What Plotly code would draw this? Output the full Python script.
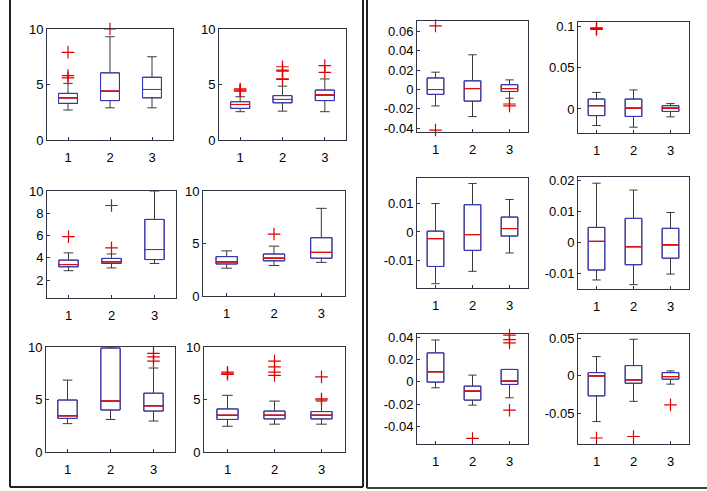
import plotly.graph_objects as go

W, H = 707, 491

# ---------------- data ----------------
CATEGORIES = [1, 2, 3]

Q1 = [
    [3.3, 3.55, 3.8], [2.85, 3.35, 3.55], [3.2, 3.5, 3.85],
    [3.05, 3.35, 3.6], [3.2, 4.0, 3.9], [3.1, 3.15, 3.15],
    [-0.005, -0.012, -0.002], [-0.008, -0.009, -0.003], [-0.012, -0.0064, -0.0014],
    [-0.0089, -0.0072, -0.0051], [-0.0003, -0.0165, -0.0024], [-0.0267, -0.0098, -0.0044],
]
MEDIAN = [
    [3.8, 4.4, 4.55], [3.2, 3.65, 4.05], [3.4, 3.65, 4.75],
    [3.25, 3.6, 4.15], [3.45, 4.85, 4.4], [3.5, 3.5, 3.5],
    [0.0, 0.001, 0.001], [0.004, 0.001, 0.001], [-0.0023, -0.0009, 0.0012],
    [0.0003, -0.0014, -0.0008], [0.009, -0.0084, 0.0006], [0.0, -0.0053, -0.0009],
]
Q3 = [
    [4.2, 6.05, 5.65], [3.45, 4.0, 4.5], [3.8, 3.95, 7.45],
    [3.75, 4.0, 5.55], [4.95, 9.9, 5.6], [4.1, 3.9, 3.85],
    [0.012, 0.009, 0.005], [0.012, 0.012, 0.004], [0.0003, 0.0095, 0.0052],
    [0.0048, 0.0077, 0.0045], [0.026, -0.0039, 0.0111], [0.0044, 0.0138, 0.0044],
]
LOWER = [
    [2.7, 2.9, 2.9], [2.55, 2.6, 2.55], [2.85, 3.1, 3.5],
    [2.65, 2.9, 3.2], [2.7, 3.1, 2.95], [2.45, 2.65, 2.65],
    [-0.017, -0.028, -0.009], [-0.020, -0.022, -0.0095], [-0.018, -0.0137, -0.0073],
    [-0.0121, -0.0136, -0.0102], [-0.0054, -0.021, -0.0144], [-0.061, -0.034, -0.011],
]
UPPER = [
    [5.1, 9.3, 7.5], [3.9, 4.85, 5.5], [4.45, 4.35, 10.0],
    [4.3, 4.75, 8.35], [6.85, 10.0, 8.0], [5.4, 4.85, 4.85],
    [0.018, 0.036, 0.010], [0.020, 0.023, 0.0065], [0.0099, 0.0169, 0.0113],
    [0.019, 0.0168, 0.0096], [0.0376, 0.006, 0.0111], [0.0258, 0.049, 0.0067],
]
# outliers per plot: [group1 values, group2 values, group3 values]
OUTLIERS = [
    [[7.9, 5.8, 5.6], [10.0], []],
    [[4.4, 4.5, 4.6], [5.45, 5.5, 6.2, 6.3, 6.6], [6.1, 6.7]],
    [[5.9], [4.9, 8.7], []],
    [[], [5.9], []],
    [[], [], [8.65, 9.05, 9.4]],
    [[7.4, 7.5, 7.6], [7.3, 7.6, 8.1, 8.65], [4.95, 5.05, 7.15]],
    [[0.066, -0.042], [], [-0.015, -0.017]],
    [[0.096, 0.097, 0.098], [], []],
    [[], [], []],
    [[], [], []],
    [[], [-0.051], [0.042, 0.038, 0.035, -0.0256]],
    [[-0.083], [-0.081], [-0.0387]],
]
Y_RANGES = [
    [0, 10], [0, 10], [0.4, 10], [0, 10], [0, 10], [0, 10],
    [-0.044, 0.071], [-0.029, 0.105], [-0.0195, 0.0188],
    [-0.015, 0.021], [-0.056, 0.043], [-0.091, 0.056],
]
Y_TICKS = [
    [0, 5, 10], [0, 5, 10], [2, 4, 6, 8, 10], [0, 5, 10], [0, 5, 10], [0, 5, 10],
    [-0.04, -0.02, 0, 0.02, 0.04, 0.06], [0, 0.05, 0.1], [-0.01, 0, 0.01],
    [-0.01, 0, 0.01, 0.02], [-0.04, -0.02, 0, 0.02, 0.04], [-0.05, 0, 0.05],
]
Y_TICKTEXT = [
    ["0", "5", "10"], ["0", "5", "10"], ["2", "4", "6", "8", "10"],
    ["0", "5", "10"], ["0", "5", "10"], ["0", "5", "10"],
    ["-0.04", "-0.02", "0", "0.02", "0.04", "0.06"], ["0", "0.05", "0.1"],
    ["-0.01", "0", "0.01"], ["-0.01", "0", "0.01", "0.02"],
    ["-0.04", "-0.02", "0", "0.02", "0.04"], ["-0.05", "0", "0.05"],
]

# ---------------- layout (pixel boxes of each axes: x0, x1, y0(top), y1(bottom)) ----------------
BOXES = [
    (47, 173, 29, 140), (219, 346, 29, 140),
    (47, 176, 191, 298), (203, 345, 191, 296),
    (46, 175, 347, 452), (204, 345, 347, 452),
    (417, 528, 21, 132), (578, 689, 22, 133),
    (417, 528, 178, 288), (578, 689, 177, 289),
    (417, 528, 334, 444), (578, 689, 334, 444),
]

BOX_COLOR = "#3535c0"
WHISKER_COLOR = "#3a3a3a"
MED_COLOR = "#e01010"
FRAME = "#333344"
BOX_W = 0.45

fig = go.Figure()
layout = dict(
    width=W, height=H, margin=dict(l=0, r=0, t=0, b=0, pad=0, autoexpand=False),
    paper_bgcolor="white", plot_bgcolor="white", showlegend=False,
    font=dict(family="Liberation Sans, Arial, sans-serif", size=13, color="black"),
    boxmode="overlay",
)

for i in range(12):
    n = "" if i == 0 else str(i + 1)
    xa, ya = "x" + n, "y" + n
    common = dict(x=CATEGORIES, width=BOX_W, boxpoints=False,
                  fillcolor="rgba(255,255,255,0)", xaxis=xa, yaxis=ya, hoverinfo="skip")
    # whiskers + caps (dark)
    fig.add_trace(go.Box(
        q1=Q1[i], median=MEDIAN[i], q3=Q3[i],
        lowerfence=LOWER[i], upperfence=UPPER[i], whiskerwidth=0.5,
        line=dict(color=WHISKER_COLOR, width=1), **common,
    ))
    # blue box body
    fig.add_trace(go.Box(
        q1=Q1[i], median=MEDIAN[i], q3=Q3[i],
        lowerfence=Q1[i], upperfence=Q3[i], whiskerwidth=0,
        line=dict(color=BOX_COLOR, width=1), **common,
    ))
    # red median line
    fig.add_trace(go.Box(
        q1=MEDIAN[i], median=MEDIAN[i], q3=MEDIAN[i],
        lowerfence=MEDIAN[i], upperfence=MEDIAN[i], whiskerwidth=0,
        line=dict(color=MED_COLOR, width=1), **common,
    ))
    ox, oy = [], []
    for c, vals in zip(CATEGORIES, OUTLIERS[i]):
        ox += [c] * len(vals)
        oy += vals
    if ox:
        fig.add_trace(go.Scatter(
            x=ox, y=oy, mode="markers", xaxis=xa, yaxis=ya,
            marker=dict(symbol="cross-thin", size=9, line=dict(color="#e00000", width=1.2)),
            hoverinfo="skip", cliponaxis=False,
        ))
    x0, x1, y0, y1 = BOXES[i]
    layout["xaxis" + n] = dict(
        domain=[x0 / W, x1 / W], anchor=ya, range=[0.5, 3.5],
        tickvals=CATEGORIES, ticktext=[str(c) for c in CATEGORIES],
        showgrid=False, zeroline=False, showline=True, mirror=True,
        linecolor=FRAME, linewidth=1, ticks="inside", ticklen=3, tickcolor=FRAME,
        ticklabelstandoff=5, fixedrange=True, automargin=False,
    )
    layout["yaxis" + n] = dict(
        domain=[1 - y1 / H, 1 - y0 / H], anchor=xa, range=Y_RANGES[i],
        tickvals=Y_TICKS[i], ticktext=Y_TICKTEXT[i],
        showgrid=False, zeroline=False, showline=True, mirror=True,
        linecolor=FRAME, linewidth=1, ticks="inside", ticklen=3, tickcolor=FRAME,
        fixedrange=True, automargin=False,
    )

# panel borders
def px_line(x0, y0, x1, y1, color="#222222", w=2):
    return dict(type="line", xref="paper", yref="paper",
                x0=x0 / W, x1=x1 / W, y0=1 - y0 / H, y1=1 - y1 / H,
                line=dict(color=color, width=w))

layout["shapes"] = [
    px_line(10, 0, 10, 487),
    px_line(363, 0, 363, 487),
    px_line(10, 487, 363, 487),
    px_line(367, 0, 367, 488),
    px_line(367, 488, 707, 488, color="#2f4a3a"),
]

fig.update_layout(**layout)
fig.write_html("out.html")
